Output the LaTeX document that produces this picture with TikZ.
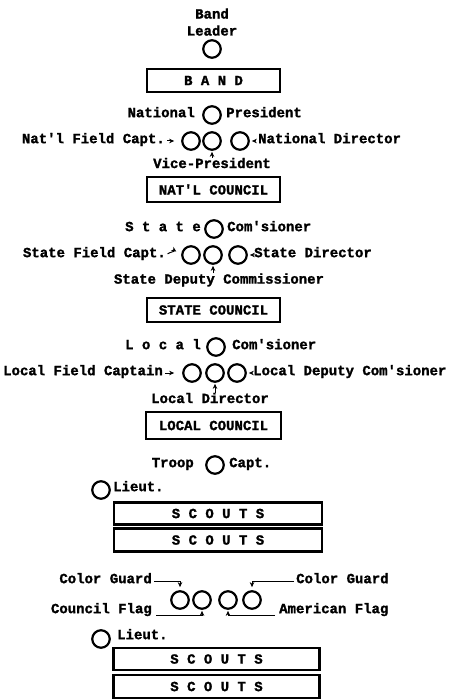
\documentclass[tikz,border=0pt]{standalone}
\usepackage{fontspec}
\setmonofont{Liberation Mono}[BoldFeatures={FakeBold=1.5}]
\usetikzlibrary{arrows.meta}
\begin{document}
\begin{tikzpicture}[x=1pt,y=-1pt,
  every node/.style={inner sep=0pt},
  lbl/.style={font=\ttfamily\bfseries\fontsize{14}{17}\selectfont},
  circ/.style={circle,draw,line width=2.2pt,minimum size=17.5pt},
  bx/.style={draw,line width=2.5pt,font=\ttfamily\bfseries\fontsize{14}{17}\selectfont},
  tip/.style={-{Stealth[length=5pt,width=4.5pt]},line width=1pt}]
\useasboundingbox (0,0) rectangle (459,700);

% Band
\node[lbl,align=center] (bl) at (212,22) {Band\\Leader};
\node[circ] (blc) at (212,49) {};
\node[bx,minimum width=133pt,minimum height=23pt] (band) at (213.5,80.5) {B A N D};

% National
\node[circ] (np) at (212,115) {};
\node[lbl,anchor=mid east] (npl) at (195,115) {National};
\node[lbl,anchor=mid west] (npr) at (226,115) {President};
\node[circ] (n1) at (191,141) {};
\node[circ] (n2) at (212,141) {};
\node[circ] (n3) at (240,141) {};
\node[lbl,anchor=mid east] (nfc) at (165,141) {Nat'l Field Capt.};
\node[lbl,anchor=mid west] (nd) at (258,141) {National Director};
\node[lbl] (vp) at (212,163) {Vice-President};
\draw[tip,shorten <=2pt,shorten >=7pt] (nfc.mid east) -- (n1.west);
\draw[tip,shorten <=2pt,shorten >=2pt] (nd.mid west) -- (n3.east);
\draw[tip,shorten >=1pt] (vp.north -| n2) -- (n2.south);
\node[bx,minimum width=133pt,minimum height=25pt] (nc) at (213.5,189.5) {NAT'L COUNCIL};

% State
\node[circ] (sc) at (214,229) {};
\node[lbl,anchor=mid east] (scl) at (201,229) {S t a t e};
\node[lbl,anchor=mid west] (scr) at (227,229) {Com'sioner};
\node[circ] (s1) at (191,255) {};
\node[circ] (s2) at (213,255) {};
\node[circ] (s3) at (238,255) {};
\node[lbl,anchor=mid east] (sfc) at (166,255) {State Field Capt.};
\node[lbl,anchor=mid west] (sd) at (254,255) {State Director};
\node[lbl] (sdc) at (219,280) {State Deputy Commissioner};
\draw[tip,shorten <=2pt,shorten >=6pt] (sfc.mid east) to[bend left=35] (s1.west);
\draw[tip,shorten <=2pt,shorten >=2pt] (sd.mid west) -- (s3.east);
\draw[tip,shorten >=1pt] (sdc.north -| s2) -- (s2.south);
\node[bx,minimum width=133pt,minimum height=24pt] (stc) at (213.5,310) {STATE COUNCIL};

% Local
\node[circ] (lc) at (216,347) {};
\node[lbl,anchor=mid east] (lcl) at (201,347) {L o c a l};
\node[lbl,anchor=mid west] (lcr) at (232,347) {Com'sioner};
\node[circ] (l1) at (192,373) {};
\node[circ] (l2) at (215,373) {};
\node[circ] (l3) at (237,373) {};
\node[lbl,anchor=mid east] (lfc) at (163,373) {Local Field Captain};
\node[lbl,anchor=mid west] (ldc) at (253,373) {Local Deputy Com'sioner};
\node[lbl] (ld) at (210,398) {Local Director};
\draw[tip,shorten <=2pt,shorten >=8pt] (lfc.mid east) -- (l1.west);
\draw[tip,shorten <=2pt,shorten >=2pt] (ldc.mid west) -- (l3.east);
\draw[tip,shorten >=1pt] (ld.north -| l2) -- (l2.south);
\node[bx,minimum width=135pt,minimum height=27pt] (lcc) at (213.5,425.5) {LOCAL COUNCIL};

% Troop
\node[circ] (tc) at (215,465) {};
\node[lbl,anchor=mid east] (tcl) at (194,465) {Troop};
\node[lbl,anchor=mid west] (tcr) at (229,465) {Capt.};
\node[circ] (lt1) at (101,490) {};
\node[lbl,anchor=mid west] (lt1l) at (113,489) {Lieut.};
\node[bx,minimum width=208pt,minimum height=22pt] (sc1) at (218,513.5) {S C O U T S};
\node[bx,minimum width=208pt,minimum height=23pt] (sc2) at (218,540) {S C O U T S};

% Color guard
\node[circ] (cg1) at (180,600) {};
\node[circ] (cg2) at (202,600) {};
\node[circ] (cg3) at (228,600) {};
\node[circ] (cg4) at (252,600) {};
\node[lbl,anchor=mid east] (cgl) at (152,581) {Color Guard};
\node[lbl,anchor=mid west] (cgr) at (296,581) {Color Guard};
\node[lbl,anchor=mid east] (cfl) at (152,611) {Council Flag};
\node[lbl,anchor=mid west] (afl) at (279,611) {American Flag};
\draw[tip,shorten >=3pt] ([xshift=2pt]cgl.mid east) -| (cg1.north);
\draw[tip,shorten >=3pt] ([xshift=-2pt]cgr.mid west) -| (cg4.north);
\draw[tip,shorten >=1pt] ([xshift=4pt,yshift=-2pt]cfl.base east) -| (cg2.south);
\draw[tip,shorten >=1pt] ([xshift=-4pt,yshift=-2pt]afl.base west) -| (cg3.south);

\node[circ] (lt2) at (101,639) {};
\node[lbl,anchor=mid west] (lt2l) at (117,637) {Lieut.};
\node[bx,minimum width=206pt,minimum height=22pt] (sc3) at (216.5,659) {S C O U T S};
\node[bx,minimum width=206pt,minimum height=23pt] (sc4) at (216.5,686.5) {S C O U T S};
\end{tikzpicture}
\end{document}
